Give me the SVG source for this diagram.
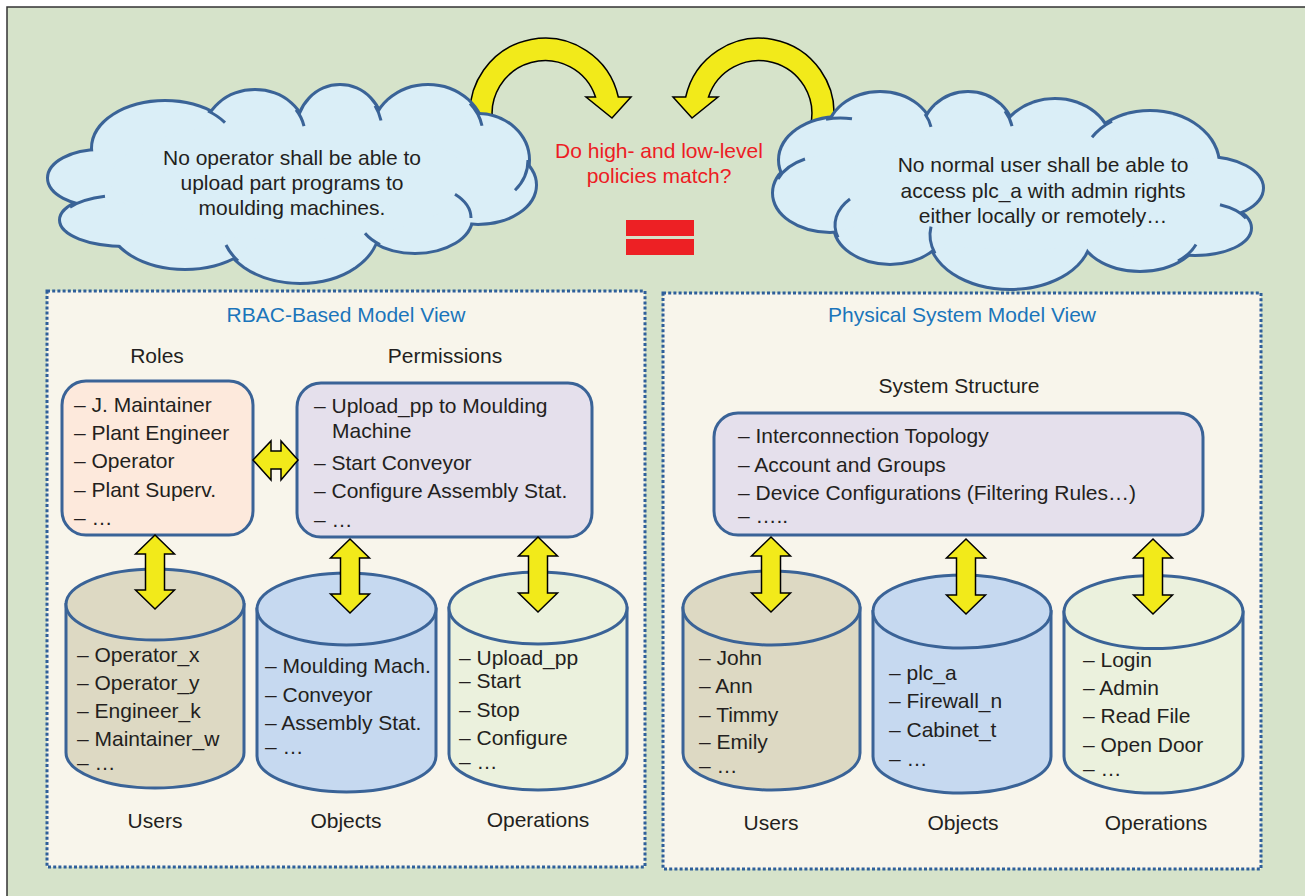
<svg xmlns="http://www.w3.org/2000/svg" xmlns:xlink="http://www.w3.org/1999/xlink" width="1305" height="896" viewBox="0 0 1305 896">
<style>
.t{font-family:"Liberation Sans",Arial,Helvetica,sans-serif;font-size:21px;fill:#231f20}
.c{text-anchor:middle}
.blue{fill:#1b75bb}
.red{fill:#ed1c24}
.box{stroke:#3a6397;stroke-width:3}
.yel{fill:#f2ea1a;stroke:#000;stroke-width:1.5;stroke-linejoin:miter}
.panel{fill:#f8f5eb;stroke:#2e5f9a;stroke-width:3;stroke-dasharray:3 2.2}
.stub{fill:none;stroke:#3a6397;stroke-width:3}
</style>
<defs>
<g id="cloudL-shape">
<ellipse cx="165" cy="148" rx="72" ry="46"/>
<ellipse cx="255" cy="135" rx="50" ry="44"/>
<ellipse cx="340" cy="130" rx="42" ry="44"/>
<ellipse cx="428" cy="135" rx="55" ry="49"/>
<ellipse cx="478" cy="160" rx="50" ry="45"/>
<ellipse cx="478" cy="185" rx="57" ry="38"/>
<ellipse cx="415" cy="218" rx="56" ry="34"/>
<ellipse cx="300" cy="228" rx="78" ry="54"/>
<ellipse cx="185" cy="222" rx="75" ry="46"/>
<ellipse cx="125" cy="220" rx="64" ry="25"/>
<ellipse cx="100" cy="178" rx="51" ry="27"/>
</g>
<g id="cloudR-shape">
<ellipse cx="840" cy="160" rx="60" ry="42"/>
<ellipse cx="880" cy="135" rx="52" ry="42"/>
<ellipse cx="968" cy="135" rx="45" ry="42"/>
<ellipse cx="1055" cy="145" rx="55" ry="45"/>
<ellipse cx="1150" cy="165" rx="68" ry="53"/>
<ellipse cx="1205" cy="188" rx="57" ry="30"/>
<ellipse cx="1195" cy="228" rx="55" ry="26"/>
<ellipse cx="1140" cy="230" rx="60" ry="40"/>
<ellipse cx="1010" cy="235" rx="80" ry="53"/>
<ellipse cx="890" cy="225" rx="55" ry="38"/>
<ellipse cx="830" cy="193" rx="56" ry="38"/>
</g>
</defs>

<!-- frame -->
<rect x="0" y="0" width="1305" height="896" fill="#ffffff"/>
<rect x="7" y="7" width="1310" height="900" fill="#d6e3ca" stroke="#333333" stroke-width="1.5"/>

<!-- curved yellow arrows (connectors between clouds and the question) -->
<g id="connectors">
<path class="yel" d="M471,125 A75,75 0 0 1 618.3,97 L631,97 L612,118 L586,97 L595.5,97 A53,53 0 0 0 493.4,125 Z"/>
<path class="yel" d="M833,125 A75,75 0 0 0 685.7,97 L673,97 L692,118 L718,97 L708.5,97 A53,53 0 0 1 810.6,125 Z"/>
</g>

<g id="cloud-left">
<use xlink:href="#cloudL-shape" fill="#daeef7" stroke="#3a6397" stroke-width="6"/>
<use xlink:href="#cloudL-shape" fill="#daeef7" stroke="none"/>
<ellipse cx="290" cy="180" rx="180" ry="60" fill="#daeef7"/>
<path class="stub" d="M208,111 A72,46 0 0 1 225,122.6"/>
<path class="stub" d="M296,109.8 A50,44 0 0 1 304,126.2"/>
<path class="stub" d="M375,105.7 A42,44 0 0 1 381,120.5"/>
<path class="stub" d="M470,103.4 A55,49 0 0 1 482,125.7"/>
<path class="stub" d="M528,160 A50,45 0 0 1 515,190.3"/>
<path class="stub" d="M471,218 A56,34 0 0 0 455,194.2"/>
<path class="stub" d="M380,244.5 A56,34 0 0 1 365,233.3"/>
<path class="stub" d="M238,260.8 A78,54 0 0 1 226,245"/>
<path class="stub" d="M70,207.2 A64,25 0 0 1 105,196.3"/>
<text class="t c" x="292" y="165">No operator shall be able to</text>
<text class="t c" x="292" y="190">upload part programs to</text>
<text class="t c" x="292" y="215">moulding machines.</text>
</g>

<g id="cloud-right">
<use xlink:href="#cloudR-shape" fill="#daeef7" stroke="#3a6397" stroke-width="6"/>
<use xlink:href="#cloudR-shape" fill="#daeef7" stroke="none"/>
<ellipse cx="1020" cy="190" rx="180" ry="60" fill="#daeef7"/>
<path class="stub" d="M826,119.2 A60,42 0 0 1 852,118.8"/>
<path class="stub" d="M925,114 A52,42 0 0 1 931,126.8"/>
<path class="stub" d="M1005,111.1 A45,42 0 0 1 1012,126.2"/>
<path class="stub" d="M1092,137.3 A68,53 0 0 1 1112,121.1"/>
<path class="stub" d="M1246,218.3 A55,26 0 0 0 1220,204.8"/>
<path class="stub" d="M1178,261 A60,40 0 0 0 1196,244.4"/>
<path class="stub" d="M935,253.4 A80,53 0 0 1 931,226.6"/>
<path class="stub" d="M838,237.4 A55,38 0 0 1 850,199"/>
<path class="stub" d="M778,178.9 A56,38 0 0 1 805,159"/>
<text class="t c" x="1043" y="172">No normal user shall be able to</text>
<text class="t c" x="1043" y="198">access plc_a with admin rights</text>
<text class="t c" x="1043" y="223">either locally or remotely…</text>
</g>

<g id="question">
<text class="t c red" x="659" y="158">Do high- and low-level</text>
<text class="t c red" x="659" y="183">policies match?</text>
<rect x="626" y="220" width="68" height="16" fill="#ed2024"/>
<rect x="626" y="239" width="68" height="16" fill="#ed2024"/>
</g>

<!-- RBAC panel -->
<g id="panel-rbac">
<rect class="panel" x="47" y="291" width="598" height="576"/>
<text class="t c blue" x="346" y="322">RBAC-Based Model View</text>
<text class="t c" x="157" y="363">Roles</text>
<text class="t c" x="445" y="363">Permissions</text>
<text class="t c" x="155" y="828">Users</text>
<text class="t c" x="346" y="828">Objects</text>
<text class="t c" x="538" y="827">Operations</text>
</g>

<g id="roles">
<rect class="box" x="62" y="381" width="191" height="154" rx="24" fill="#fde9dc"/>
<text class="t" x="74" y="412">– J. Maintainer</text>
<text class="t" x="74" y="440">– Plant Engineer</text>
<text class="t" x="74" y="468">– Operator</text>
<text class="t" x="74" y="497">– Plant Superv.</text>
<text class="t" x="74" y="525">– …</text>
</g>

<g id="permissions">
<rect class="box" x="297" y="383" width="295" height="154" rx="24" fill="#e5e0ec"/>
<text class="t" x="314" y="413">– Upload_pp to Moulding</text>
<text class="t" x="332" y="438">Machine</text>
<text class="t" x="314" y="470">– Start Conveyor</text>
<text class="t" x="314" y="498">– Configure Assembly Stat.</text>
<text class="t" x="314" y="527">– …</text>
</g>

<g id="rbac-users">
<path class="box" fill="#ddd9c3" d="M66,604.5 L66,752.5 A89,35.5 0 0 0 244,752.5 L244,604.5 Z"/>
<ellipse class="box" cx="155" cy="604.5" rx="89" ry="35.5" fill="#ddd9c3"/>
<text class="t" x="77" y="662">– Operator_x</text>
<text class="t" x="77" y="690">– Operator_y</text>
<text class="t" x="77" y="718">– Engineer_k</text>
<text class="t" x="77" y="746">– Maintainer_w</text>
<text class="t" x="77" y="770">– …</text>
</g>

<g id="rbac-objects">
<path class="box" fill="#c6d9f0" d="M257,609 L257,756 A89.5,36 0 0 0 436,756 L436,609 Z"/>
<ellipse class="box" cx="346.5" cy="609" rx="89.5" ry="36" fill="#c6d9f0"/>
<text class="t" x="265" y="673">– Moulding Mach.</text>
<text class="t" x="265" y="702">– Conveyor</text>
<text class="t" x="265" y="730">– Assembly Stat.</text>
<text class="t" x="265" y="754">– …</text>
</g>

<g id="rbac-operations">
<path class="box" fill="#ebf1dd" d="M449,608 L449,754 A89,36 0 0 0 627,754 L627,608 Z"/>
<ellipse class="box" cx="538" cy="608" rx="89" ry="36" fill="#ebf1dd"/>
<text class="t" x="459" y="665">– Upload_pp</text>
<text class="t" x="459" y="688">– Start</text>
<text class="t" x="459" y="717">– Stop</text>
<text class="t" x="459" y="745">– Configure</text>
<text class="t" x="459" y="769">– …</text>
</g>

<!-- Physical panel -->
<g id="panel-physical">
<rect class="panel" x="663" y="293" width="598" height="576"/>
<text class="t c blue" x="962" y="322">Physical System Model View</text>
<text class="t c" x="959" y="393">System Structure</text>
<text class="t c" x="771" y="830">Users</text>
<text class="t c" x="963" y="830">Objects</text>
<text class="t c" x="1156" y="830">Operations</text>
</g>

<g id="system-structure">
<rect class="box" x="714" y="413" width="489" height="122" rx="24" fill="#e5e0ec"/>
<text class="t" x="738" y="443">– Interconnection Topology</text>
<text class="t" x="738" y="472">– Account and Groups</text>
<text class="t" x="738" y="500">– Device Configurations (Filtering Rules…)</text>
<text class="t" x="738" y="523">– …..</text>
</g>

<g id="phys-users">
<path class="box" fill="#ddd9c3" d="M683,608 L683,753 A88.5,37 0 0 0 860,753 L860,608 Z"/>
<ellipse class="box" cx="771.5" cy="608" rx="88.5" ry="37" fill="#ddd9c3"/>
<text class="t" x="699" y="665">– John</text>
<text class="t" x="699" y="693">– Ann</text>
<text class="t" x="699" y="722">– Timmy</text>
<text class="t" x="699" y="749">– Emily</text>
<text class="t" x="699" y="773">– …</text>
</g>

<g id="phys-objects">
<path class="box" fill="#c6d9f0" d="M873,611.5 L873,756.5 A89,36.5 0 0 0 1051,756.5 L1051,611.5 Z"/>
<ellipse class="box" cx="962" cy="611.5" rx="89" ry="36.5" fill="#c6d9f0"/>
<text class="t" x="889" y="680">– plc_a</text>
<text class="t" x="889" y="708">– Firewall_n</text>
<text class="t" x="889" y="737">– Cabinet_t</text>
<text class="t" x="889" y="766">– …</text>
</g>

<g id="phys-operations">
<path class="box" fill="#ebf1dd" d="M1064,612 L1064,756.5 A89.5,36.5 0 0 0 1243,756.5 L1243,612 Z"/>
<ellipse class="box" cx="1153.5" cy="612" rx="89.5" ry="36.5" fill="#ebf1dd"/>
<text class="t" x="1083" y="667">– Login</text>
<text class="t" x="1083" y="695">– Admin</text>
<text class="t" x="1083" y="723">– Read File</text>
<text class="t" x="1083" y="752">– Open Door</text>
<text class="t" x="1083" y="776">– …</text>
</g>

<!-- double-headed yellow connectors -->
<g id="links">
<path class="yel" d="M253,460 L271,441 L271,451 L281,451 L281,441 L298,460 L281,480 L281,469 L271,469 L271,480 Z"/>
<path class="yel" d="M155,535 L174.5,554 L164.5,554 L164.5,590 L174.5,590 L155,609 L135.5,590 L145.5,590 L145.5,554 L135.5,554 Z"/>
<path class="yel" d="M350,539 L369.5,558 L359.5,558 L359.5,594 L369.5,594 L350,613 L330.5,594 L340.5,594 L340.5,558 L330.5,558 Z"/>
<path class="yel" d="M538,537 L557.5,556 L547.5,556 L547.5,593 L557.5,593 L538,612 L518.5,593 L528.5,593 L528.5,556 L518.5,556 Z"/>
<path class="yel" d="M771,537 L790.5,556 L780.5,556 L780.5,593 L790.5,593 L771,612 L751.5,593 L761.5,593 L761.5,556 L751.5,556 Z"/>
<path class="yel" d="M966,539 L985.5,558 L975.5,558 L975.5,595 L985.5,595 L966,614 L946.5,595 L956.5,595 L956.5,558 L946.5,558 Z"/>
<path class="yel" d="M1153,539 L1172.5,558 L1162.5,558 L1162.5,595 L1172.5,595 L1153,614 L1133.5,595 L1143.5,595 L1143.5,558 L1133.5,558 Z"/>
</g>
</svg>
